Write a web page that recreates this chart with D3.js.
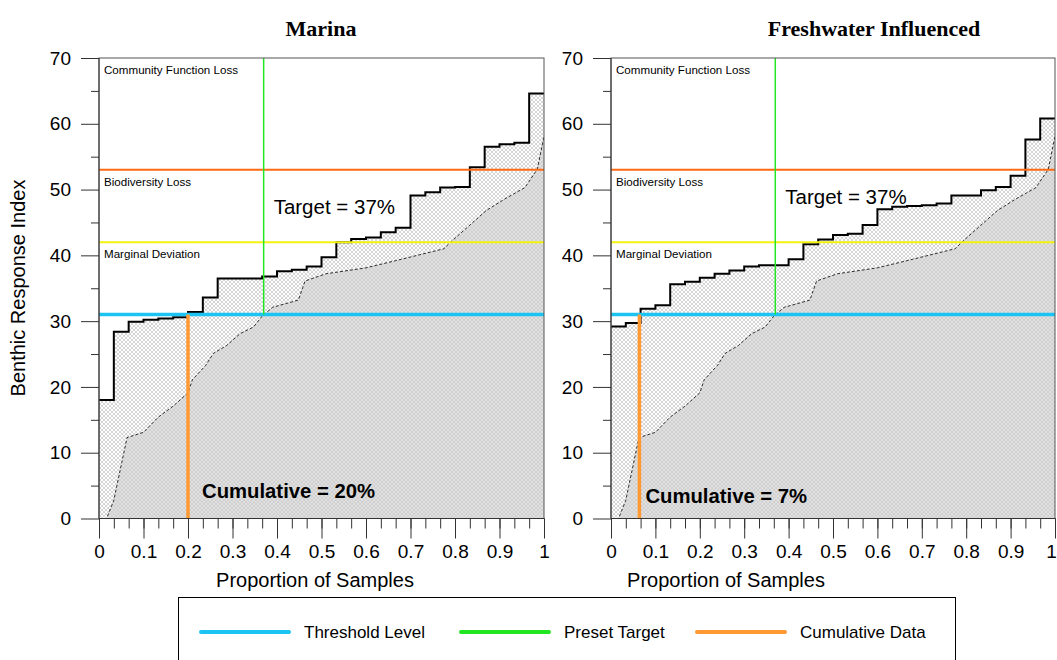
<!DOCTYPE html>
<meta charset="utf-8">
<style>
body { margin: 0; background: #fff; }
text { font-family: "Liberation Sans", Arial, sans-serif; }
.title { font-family: "Liberation Serif", "Times New Roman", serif; font-weight: bold; font-size: 22px; }
.axis line { stroke: #333; }
.axis text { font-size: 19px; fill: #000; font-family: "Liberation Sans", Arial, sans-serif; }
</style>
<body>
<script src="https://d3js.org/d3.v7.min.js"></script>
<script>

// panel titles
var panelTitles = ["Marina", "Freshwater Influenced"];

// sorted index scores, one per sample (30 samples per panel)
var marinaScores = [18.0, 28.4, 29.9, 30.2, 30.4, 30.6, 31.4, 33.6, 36.5, 36.5,
                    36.5, 36.8, 37.6, 37.8, 38.3, 39.7, 42.0, 42.5, 42.7, 43.5,
                    44.2, 49.1, 49.6, 50.3, 50.4, 53.4, 56.5, 56.9, 57.1, 64.6];
var freshwaterScores = [29.2, 29.7, 31.9, 32.4, 35.6, 36.0, 36.6, 37.2, 37.7, 38.3,
                        38.5, 38.5, 39.4, 41.7, 42.4, 43.1, 43.3, 44.6, 47.0, 47.4,
                        47.5, 47.6, 47.9, 49.1, 49.1, 49.9, 50.4, 52.1, 57.6, 60.8];

// reference distribution (dashed curve, same in both panels)
var refProportion = [0, 0.017, 0.033, 0.063, 0.1, 0.133, 0.167, 0.2, 0.21, 0.24,
                     0.257, 0.287, 0.317, 0.347, 0.367, 0.39, 0.448, 0.463, 0.51, 0.6,
                     0.667, 0.775, 0.79, 0.83, 0.87, 0.91, 0.936, 0.957, 0.985, 1];
var refScore = [0, 0, 2.7, 12.3, 13.1, 15.4, 17.1, 19.1, 21.1, 23.3,
                25.1, 26.3, 28.1, 29.1, 30.8, 32.1, 33.2, 36.1, 37.2, 38.1,
                39.2, 41.0, 42.0, 44.4, 46.8, 48.5, 49.5, 50.3, 53.1, 58.1];

var thresholdLevel = 31;
var presetTarget = 0.37;
var cumulativeShare = [0.2, 0.064];
var targetLabel = "Target = 37%";
var cumulativeLabels = ["Cumulative = 20%", "Cumulative = 7%"];

// zone boundaries and names (top to bottom)
var zoneTops = [70, 53, 42];
var zoneNames = ["Community Function Loss", "Biodiversity Loss", "Marginal Deviation"];

// ticks
var yTicks = [0, 10, 20, 30, 40, 50, 60, 70];
var yMinorTicks = [5, 15, 25, 35, 45, 55, 65];
var xTicks = [0, 0.1, 0.2, 0.3, 0.4, 0.5, 0.6, 0.7, 0.8, 0.9, 1];
var xTickLabels = ["0", "0.1", "0.2", "0.3", "0.4", "0.5", "0.6", "0.7", "0.8", "0.9", "1"];

var legendNames = ["Threshold Level", "Preset Target", "Cumulative Data"];

// colours
var cyan = "#1cc4f4", green = "#22e622", cumOrange = "#ff9933";
var zoneColors = [null, "#ff6a10", "#f2f210"];

var plotTop = 58, plotBottom = 518.5;

var svg = d3.select("body").append("svg")
    .attr("width", 1057)
    .attr("height", 660);

var defs = svg.append("defs");

// cross-hatch fills
function hatch(id, bg, ink) {
  var p = defs.append("pattern")
      .attr("id", id)
      .attr("width", 4)
      .attr("height", 4)
      .attr("patternUnits", "userSpaceOnUse");
  p.append("rect").attr("width", 4).attr("height", 4).attr("fill", bg);
  p.append("path")
      .attr("d", "M0,0L4,4M4,0L0,4")
      .attr("stroke", ink)
      .attr("stroke-width", 0.6);
}
hatch("hatchLight", "#ffffff", "#b8b8b8");
hatch("hatchGray", "#e0e0e0", "#c6c6c6");

var panels = [
  {title: panelTitles[0], scores: marinaScores, cum: cumulativeShare[0], cumText: cumulativeLabels[0],
   left: 99, right: 544, titleX: 321, xTitleX: 315, targetY: 207, cumDx: 14, cumY: 491},
  {title: panelTitles[1], scores: freshwaterScores, cum: cumulativeShare[1], cumText: cumulativeLabels[1],
   left: 611, right: 1055, titleX: 874, xTitleX: 726, targetY: 197, cumDx: 6, cumY: 496}
];

panels.forEach(function(pn, k) {
  var x = d3.scaleLinear().domain([0, 1]).range([pn.left, pn.right]);
  var y = d3.scaleLinear().domain([0, 70]).range([plotBottom, plotTop]);

  defs.append("clipPath").attr("id", "clip" + k)
    .append("rect")
      .attr("x", pn.left)
      .attr("y", plotTop)
      .attr("width", pn.right - pn.left)
      .attr("height", plotBottom - plotTop);

  var pg = svg.append("g").attr("clip-path", "url(#clip" + k + ")");

  var n = pn.scores.length;
  var steps = pn.scores.map(function(v, i) { return [i / n, v]; })
      .concat([[1, pn.scores[n - 1]]]);
  var ref = refProportion.map(function(p, i) { return [p, refScore[i]]; });

  // hatched area under the sample curve
  pg.append("path")
      .datum(steps)
      .attr("fill", "url(#hatchLight)")
      .attr("d", d3.area().curve(d3.curveStepAfter)
          .x(function(d) { return x(d[0]); })
          .y0(y(0))
          .y1(function(d) { return y(d[1]); }));

  // grey area under the reference curve
  pg.append("path")
      .datum(ref)
      .attr("fill", "url(#hatchGray)")
      .attr("d", d3.area()
          .x(function(d) { return x(d[0]); })
          .y0(y(0))
          .y1(function(d) { return y(d[1]); }));

  pg.append("path")
      .datum(ref)
      .attr("fill", "none")
      .attr("stroke", "#000")
      .attr("stroke-width", 0.8)
      .attr("stroke-dasharray", "3,2")
      .attr("d", d3.line()
          .x(function(d) { return x(d[0]); })
          .y(function(d) { return y(d[1]); }));

  pg.append("path")
      .datum(steps)
      .attr("fill", "none")
      .attr("stroke", "#000")
      .attr("stroke-width", 2)
      .attr("d", d3.line().curve(d3.curveStepAfter)
          .x(function(d) { return x(d[0]); })
          .y(function(d) { return y(d[1]); }));

  // zone boundaries
  zoneTops.forEach(function(v, j) {
    if (j > 0) {
      pg.append("line")
          .attr("x1", x(0)).attr("x2", x(1))
          .attr("y1", y(v)).attr("y2", y(v))
          .attr("stroke", zoneColors[j])
          .attr("stroke-width", 2);
    }
    svg.append("text")
        .attr("x", x(0) + 5)
        .attr("y", y(v) + 12)
        .attr("dy", "0.35em")
        .attr("font-size", 11.6)
        .text(zoneNames[j]);
  });

  // threshold level
  pg.append("line")
      .attr("x1", x(0)).attr("x2", x(1))
      .attr("y1", y(thresholdLevel)).attr("y2", y(thresholdLevel))
      .attr("stroke", cyan)
      .attr("stroke-width", 3.5);

  // preset target
  pg.append("line")
      .attr("x1", x(presetTarget)).attr("x2", x(presetTarget))
      .attr("y1", y(thresholdLevel)).attr("y2", y(70))
      .attr("stroke", green)
      .attr("stroke-width", 1.5);

  // cumulative data
  pg.append("line")
      .attr("x1", x(pn.cum)).attr("x2", x(pn.cum))
      .attr("y1", y(0)).attr("y2", y(thresholdLevel))
      .attr("stroke", cumOrange)
      .attr("stroke-width", 3.5);

  svg.append("text")
      .attr("x", x(presetTarget) + 10)
      .attr("y", pn.targetY)
      .attr("dy", "0.35em")
      .attr("font-size", 20.5)
      .text(targetLabel);

  svg.append("text")
      .attr("x", x(pn.cum) + pn.cumDx)
      .attr("y", pn.cumY)
      .attr("dy", "0.35em")
      .attr("font-size", 20.3)
      .attr("font-weight", "bold")
      .text(pn.cumText);

  // frame
  svg.append("rect")
      .attr("x", pn.left)
      .attr("y", plotTop)
      .attr("width", pn.right - pn.left)
      .attr("height", plotBottom - plotTop)
      .attr("fill", "none")
      .attr("stroke", "#555")
      .attr("stroke-width", 1);

  // axes
  svg.append("g")
      .attr("class", "axis")
      .attr("transform", "translate(" + pn.left + ",0)")
      .call(d3.axisLeft(y).tickValues(yTicks).tickSize(18).tickPadding(10))
      .call(function(s) { s.select(".domain").remove(); });
  svg.append("g")
      .attr("class", "axis")
      .attr("transform", "translate(" + pn.left + ",0)")
      .call(d3.axisLeft(y).tickValues(yMinorTicks).tickSize(8).tickFormat(""))
      .call(function(s) { s.select(".domain").remove(); });

  var xAxisG = svg.append("g")
      .attr("class", "axis")
      .attr("transform", "translate(0," + plotBottom + ")")
      .call(d3.axisBottom(x).tickValues(xTicks).tickSize(20).tickPadding(6)
          .tickFormat(function(d, i) { return xTickLabels[i]; }))
      .call(function(s) { s.select(".domain").remove(); });
  // keep the last label inside the page on the right-hand panel
  if (k === 1) {
    xAxisG.selectAll(".tick text")
        .filter(function(d) { return d === 1; })
        .attr("dx", -4);
  }
  svg.append("g")
      .attr("class", "axis")
      .attr("transform", "translate(0," + plotBottom + ")")
      .call(d3.axisBottom(x).tickValues(d3.range(n + 1).map(function(i) { return i / n; }))
          .tickSize(10).tickFormat(""))
      .call(function(s) { s.select(".domain").remove(); });

  // axis lines
  svg.append("line")
      .attr("x1", pn.left).attr("x2", pn.left)
      .attr("y1", plotTop).attr("y2", plotBottom)
      .attr("stroke", "#333");
  svg.append("line")
      .attr("x1", pn.left).attr("x2", pn.right)
      .attr("y1", plotBottom).attr("y2", plotBottom)
      .attr("stroke", "#333");

  svg.append("text")
      .attr("class", "title")
      .attr("x", pn.titleX)
      .attr("y", 36)
      .attr("text-anchor", "middle")
      .text(pn.title);

  svg.append("text")
      .attr("x", pn.xTitleX)
      .attr("y", 580)
      .attr("dy", "0.35em")
      .attr("text-anchor", "middle")
      .attr("font-size", 20)
      .text("Proportion of Samples");
});

svg.append("text")
    .attr("transform", "translate(18,288) rotate(-90)")
    .attr("dy", "0.35em")
    .attr("text-anchor", "middle")
    .attr("font-size", 20)
    .text("Benthic Response Index");

// legend
svg.append("rect")
    .attr("x", 178.5)
    .attr("y", 597.5)
    .attr("width", 777)
    .attr("height", 80)
    .attr("fill", "#fff")
    .attr("stroke", "#000");

var legendColors = [cyan, green, cumOrange];
var legendX = [201, 461, 697];
legendNames.forEach(function(name, i) {
  svg.append("line")
      .attr("x1", legendX[i]).attr("x2", legendX[i] + 88)
      .attr("y1", 632).attr("y2", 632)
      .attr("stroke", legendColors[i])
      .attr("stroke-width", 4)
      .attr("stroke-linecap", "round");
  svg.append("text")
      .attr("x", legendX[i] + 103)
      .attr("y", 632)
      .attr("dy", "0.35em")
      .attr("font-size", 17)
      .text(name);
});

</script>
</body>
